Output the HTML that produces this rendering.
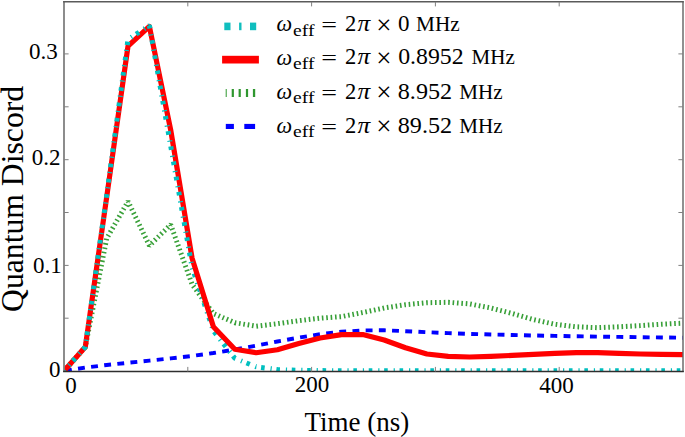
<!DOCTYPE html>
<html lang="en">
<head>
<meta charset="utf-8">
<title>Quantum Discord vs Time</title>
<style>
html,body{margin:0;padding:0;background:#fff;}
body{width:685px;height:437px;overflow:hidden;}
svg{display:block;}
text{font-family:"Liberation Serif","DejaVu Serif",serif;fill:#000;}
</style>
</head>
<body>
<svg width="685" height="437" viewBox="0 0 685 437">
<rect x="0" y="0" width="685" height="437" fill="#ffffff"/>
<defs><clipPath id="plot"><rect x="64.0" y="1.85" width="619.0" height="369.65"/></clipPath></defs>

<!-- curves -->
<g clip-path="url(#plot)" fill="none" stroke-linejoin="miter">
<polyline points="64.0,371.0 85.3,367.6 106.7,365.0 128.0,362.8 149.4,360.6 170.7,358.4 192.1,356.0 213.4,353.0 234.8,349.5 256.1,345.6 277.4,341.5 298.8,337.6 320.1,334.2 341.5,331.8 362.8,330.4 384.2,330.3 405.5,331.2 426.9,332.2 448.2,333.1 469.6,333.9 490.9,334.5 512.2,335.0 533.6,335.5 554.9,335.9 576.3,336.3 597.6,336.6 619.0,336.9 640.3,337.2 661.7,337.5 683.0,337.7" stroke="#0000ff" stroke-width="3.9" stroke-dasharray="6.9 6.3" stroke-dashoffset="-1"/>
<polyline points="64.0,371.0 85.3,347.0 106.7,238.5 128.0,201.4 149.4,245.6 170.7,224.6 192.1,284.5 213.4,313.5 234.8,322.7 256.1,326.2 277.4,323.7 298.8,320.7 320.1,318.2 341.5,316.6 362.8,312.5 384.2,308.0 405.5,304.7 426.9,302.7 448.2,302.3 469.6,303.9 490.9,308.0 512.2,313.5 533.6,319.6 554.9,324.3 576.3,326.8 597.6,327.7 619.0,326.8 640.3,325.6 661.7,324.2 683.0,323.2" stroke="#38a038" stroke-width="5" stroke-linejoin="bevel" stroke-dasharray="1.6 2.8"/>
<polyline points="192.1,267.5 213.4,330.8 234.8,358.3 256.1,366.8 277.4,369.6 298.8,370.3 320.1,370.6 341.5,370.7 362.8,370.7 384.2,370.7 405.5,370.7 426.9,370.7 448.2,370.7 469.6,370.7 490.9,370.7 512.2,370.7 533.6,370.7 554.9,370.7 576.3,370.7 597.6,370.7 619.0,370.7 640.3,370.7 661.7,370.7 683.0,370.7" stroke="#00bfbf" stroke-width="5" stroke-linejoin="bevel" stroke-dasharray="3.6 5.9 1.2 4.7" stroke-dashoffset="9"/>
<polyline points="64.0,371.0 85.3,347.0 106.7,197.0 128.0,46.2 149.4,26.4 170.7,130.0 192.1,258.3 213.4,326.8 234.8,349.3 256.1,352.7 277.4,349.7 298.8,343.5 320.1,338.0 341.5,334.6 362.8,334.6 384.2,340.0 405.5,347.8 426.9,354.0 448.2,356.4 469.6,357.0 490.9,356.4 512.2,355.4 533.6,354.4 554.9,353.4 576.3,352.6 597.6,352.6 619.0,353.4 640.3,354.0 661.7,354.4 683.0,354.6" stroke="#ff0000" stroke-width="5.2" stroke-linejoin="round"/>
<polyline points="64.0,371.0 85.3,347.0 106.7,195.0 128.0,39.5 149.4,25.5 170.7,146.0 192.1,267.5" stroke="#00bfbf" stroke-width="5" stroke-linejoin="bevel" stroke-dasharray="3.6 5.9 1.2 4.7" stroke-dashoffset="2"/>
</g>

<!-- axes box -->
<g fill="none">
<line x1="64.0" y1="1.1500000000000001" x2="64.0" y2="372.1" stroke="#808080" stroke-width="1.8"/>
<line x1="683.0" y1="1.1500000000000001" x2="683.0" y2="372.1" stroke="#666666" stroke-width="1.45"/>
<line x1="63.1" y1="1.85" x2="683.8" y2="1.85" stroke="#5a5a5a" stroke-width="1.5"/>
<line x1="63.1" y1="371.5" x2="683.8" y2="371.5" stroke="#2e2e2e" stroke-width="1.5"/>
</g>
<g stroke="#808080" stroke-width="1" fill="none">
<line x1="64.0" y1="318.2" x2="68.6" y2="318.2"/>
<line x1="683.0" y1="318.2" x2="678.4" y2="318.2"/>
<line x1="64.0" y1="265.4" x2="68.6" y2="265.4"/>
<line x1="683.0" y1="265.4" x2="678.4" y2="265.4"/>
<line x1="64.0" y1="212.5" x2="68.6" y2="212.5"/>
<line x1="683.0" y1="212.5" x2="678.4" y2="212.5"/>
<line x1="64.0" y1="159.7" x2="68.6" y2="159.7"/>
<line x1="683.0" y1="159.7" x2="678.4" y2="159.7"/>
<line x1="64.0" y1="106.8" x2="68.6" y2="106.8"/>
<line x1="683.0" y1="106.8" x2="678.4" y2="106.8"/>
<line x1="64.0" y1="53.9" x2="68.6" y2="53.9"/>
<line x1="683.0" y1="53.9" x2="678.4" y2="53.9"/>
<line x1="187.8" y1="371.5" x2="187.8" y2="366.9"/>
<line x1="187.8" y1="1.9" x2="187.8" y2="6.4"/>
<line x1="311.6" y1="371.5" x2="311.6" y2="366.9"/>
<line x1="311.6" y1="1.9" x2="311.6" y2="6.4"/>
<line x1="435.4" y1="371.5" x2="435.4" y2="366.9"/>
<line x1="435.4" y1="1.9" x2="435.4" y2="6.4"/>
<line x1="559.2" y1="371.5" x2="559.2" y2="366.9"/>
<line x1="559.2" y1="1.9" x2="559.2" y2="6.4"/>
</g>

<!-- tick labels -->
<g font-size="23">
<text x="29.0" y="58.5">0.3</text>
<text x="31.8" y="165.4">0.2</text>
<text x="33.0" y="272.9">0.1</text>
<text x="48.9" y="377.0">0</text>
<text x="65.3" y="393.3">0</text>
<text x="294.8" y="392.1">200</text>
<text x="539.2" y="392.6">400</text>
</g>

<!-- axis labels -->
<text x="304.4" y="430.6" font-size="27">Time (ns)</text>
<text transform="translate(23.4,312) rotate(-90)" font-size="31.7">Quantum Discord</text>

<!-- legend samples -->
<g>
<rect x="224.3" y="22.6" width="6.2" height="7.6" fill="#10bebe"/>
<rect x="239.1" y="22.6" width="2.4" height="7.6" fill="#10bebe"/>
<rect x="250.0" y="22.6" width="6.2" height="7.6" fill="#10bebe"/>
<rect x="222.1" y="55.8" width="36.8" height="7.7" fill="#ff0000"/>
<rect x="225.7" y="89" width="1.0" height="8" fill="#2f972f"/>
<rect x="231.7" y="89" width="2.2" height="8" fill="#2f972f"/>
<rect x="238.6" y="89" width="2.2" height="8" fill="#2f972f"/>
<rect x="245.9" y="89" width="2.2" height="8" fill="#2f972f"/>
<rect x="252.9" y="89" width="2.3" height="8" fill="#2f972f"/>
<rect x="225.8" y="123.9" width="8.1" height="5.1" fill="#0000ff"/>
<rect x="244.3" y="123.9" width="10.8" height="5.1" fill="#0000ff"/>
</g>

<!-- legend text -->
<g font-size="22">
<g>
<text x="276.5" y="30.9" font-size="24" font-style="italic" textLength="15.6" lengthAdjust="spacingAndGlyphs">ω</text>
<text x="293.1" y="35.7" font-size="17.5" textLength="21.4" lengthAdjust="spacingAndGlyphs">eff</text>
<text x="321.2" y="31.8" font-size="22" textLength="15.8" lengthAdjust="spacingAndGlyphs">=</text>
<text x="345.1" y="30.8" font-size="22.5">2</text>
<text x="357.5" y="30.8" font-size="22.5" font-style="italic" textLength="12.7" lengthAdjust="spacingAndGlyphs">π</text>
<text x="376.3" y="33.7" font-size="27">×</text>
<text x="398.1" y="30.8" font-size="22.5" textLength="11.5" lengthAdjust="spacingAndGlyphs">0</text>
<text x="416.1" y="30.8" font-size="21.5" textLength="43.6" lengthAdjust="spacingAndGlyphs">MHz</text>
</g>
<g>
<text x="276.5" y="64.5" font-size="24" font-style="italic" textLength="15.6" lengthAdjust="spacingAndGlyphs">ω</text>
<text x="293.1" y="69.3" font-size="17.5" textLength="21.4" lengthAdjust="spacingAndGlyphs">eff</text>
<text x="321.2" y="65.4" font-size="22" textLength="15.8" lengthAdjust="spacingAndGlyphs">=</text>
<text x="345.1" y="64.4" font-size="22.5">2</text>
<text x="357.5" y="64.4" font-size="22.5" font-style="italic" textLength="12.7" lengthAdjust="spacingAndGlyphs">π</text>
<text x="376.3" y="67.3" font-size="27">×</text>
<text x="398.2" y="64.4" font-size="22.5" textLength="65.4" lengthAdjust="spacingAndGlyphs">0.8952</text>
<text x="471.6" y="64.4" font-size="21.5" textLength="43.2" lengthAdjust="spacingAndGlyphs">MHz</text>
</g>
<g>
<text x="276.5" y="98.6" font-size="24" font-style="italic" textLength="15.6" lengthAdjust="spacingAndGlyphs">ω</text>
<text x="293.1" y="103.4" font-size="17.5" textLength="21.4" lengthAdjust="spacingAndGlyphs">eff</text>
<text x="321.2" y="99.5" font-size="22" textLength="15.8" lengthAdjust="spacingAndGlyphs">=</text>
<text x="345.1" y="98.5" font-size="22.5">2</text>
<text x="357.5" y="98.5" font-size="22.5" font-style="italic" textLength="12.7" lengthAdjust="spacingAndGlyphs">π</text>
<text x="376.3" y="101.4" font-size="27">×</text>
<text x="397.8" y="98.5" font-size="22.5" textLength="54.3" lengthAdjust="spacingAndGlyphs">8.952</text>
<text x="459.3" y="98.5" font-size="21.5" textLength="43.3" lengthAdjust="spacingAndGlyphs">MHz</text>
</g>
<g>
<text x="276.5" y="132.6" font-size="24" font-style="italic" textLength="15.6" lengthAdjust="spacingAndGlyphs">ω</text>
<text x="293.1" y="137.4" font-size="17.5" textLength="21.4" lengthAdjust="spacingAndGlyphs">eff</text>
<text x="321.2" y="133.5" font-size="22" textLength="15.8" lengthAdjust="spacingAndGlyphs">=</text>
<text x="345.1" y="132.5" font-size="22.5">2</text>
<text x="357.5" y="132.5" font-size="22.5" font-style="italic" textLength="12.7" lengthAdjust="spacingAndGlyphs">π</text>
<text x="376.3" y="135.4" font-size="27">×</text>
<text x="397.8" y="132.5" font-size="22.5" textLength="54.3" lengthAdjust="spacingAndGlyphs">89.52</text>
<text x="459.3" y="132.5" font-size="21.5" textLength="43.3" lengthAdjust="spacingAndGlyphs">MHz</text>
</g>
</g>
</svg>
</body>
</html>
